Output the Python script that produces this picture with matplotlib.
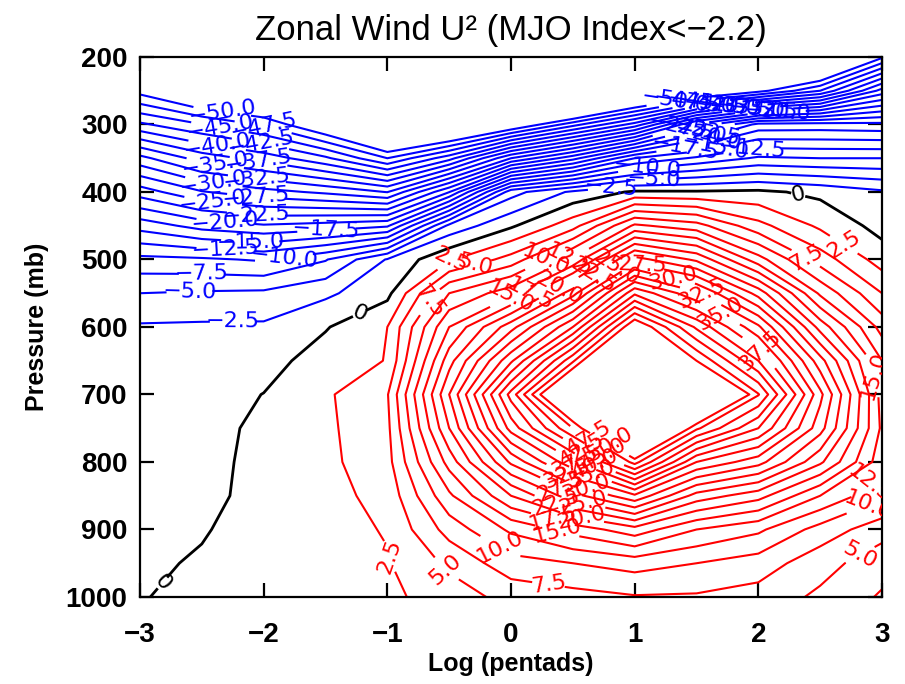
import numpy as np
import matplotlib
matplotlib.use("Agg")
import matplotlib.pyplot as plt

plt.rcParams["font.family"] = ["Liberation Sans", "DejaVu Sans"]

# Grid: log10 of period in pentads (columns) and pressure levels in mb (rows)
log_pentads = [-3.0, -2.5, -2.0, -1.5, -1.0, -0.5, 0.0, 0.5, 1.0, 1.5, 2.0, 2.5, 3.0]
pressure_mb = [200, 250, 300, 350, 400, 450, 500, 550, 600, 650, 700, 750, 800, 850, 900, 950, 1000]

# Zonal wind power (U^2) for MJO index < -2.2, one row per pressure level
u2_power = [
    [-60.0, -65.0, -68.0, -72.0, -80.0, -85.0, -85.0, -85.0, -80.0, -85.0, -80.0, -62.0, -50.5],
    [-51.0, -56.0, -58.0, -62.0, -70.0, -78.0, -75.0, -70.0, -61.0, -56.0, -51.0, -45.0, -34.0],
    [-42.0, -44.9, -47.9, -53.4, -61.0, -59.0, -53.5, -46.0, -39.0, -27.0, -19.2, -19.0, -19.3],
    [-31.7, -36.1, -38.5, -42.0, -47.5, -41.0, -30.0, -23.4, -15.0, -12.0, -9.6, -10.0, -10.0],
    [-23.7, -27.3, -29.1, -30.5, -32.6, -22.6, -6.0, -2.0, 0.4, 0.3, 0.5, -0.6, -2.1],
    [-16.0, -18.5, -19.7, -19.0, -17.9, -4.3, -0.4, 4.0, 13.0, 11.0, 5.8, 2.0, -0.9],
    [-9.3, -9.6, -10.3, -7.7, -2.3, 2.2, 6.0, 13.0, 26.0, 22.0, 13.5, 6.3, 1.3],
    [-5.0, -4.7, -4.5, -3.0, -0.7, 10.0, 14.0, 24.0, 39.5, 33.0, 24.0, 12.0, 5.0],
    [-2.2, -2.1, -2.1, -0.2, 2.5, 15.0, 24.0, 35.0, 53.0, 42.0, 33.0, 19.0, 9.0],
    [-1.8, -1.5, -1.0, 1.2, 2.6, 19.0, 32.0, 47.0, 66.0, 50.0, 40.0, 26.0, 12.5],
    [-1.5, -1.1, 0.05, 2.1, 4.8, 22.5, 41.0, 60.0, 80.0, 63.5, 47.7, 30.7, 14.0],
    [-1.2, -0.8, 0.5, 2.0, 4.4, 20.0, 36.0, 47.5, 65.0, 48.0, 40.0, 28.5, 14.5],
    [-1.0, -0.6, 0.55, 1.9, 4.1, 16.0, 28.0, 37.0, 48.5, 35.0, 31.0, 23.0, 13.5],
    [-0.8, -0.5, 0.6, 1.7, 3.3, 12.0, 20.0, 26.5, 32.0, 24.0, 21.0, 15.0, 10.5],
    [-0.6, -0.15, 0.8, 1.5, 2.7, 8.5, 13.0, 16.0, 19.0, 15.0, 13.0, 9.0, 6.0],
    [-0.35, 0.2, 1.0, 1.3, 2.3, 5.5, 9.0, 10.0, 11.0, 10.0, 8.8, 6.0, 3.5],
    [-0.1, 0.5, 1.2, 1.1, 1.9, 3.8, 5.8, 6.6, 7.3, 7.2, 6.5, 4.5, 2.2],
]

neg_levels = [round(-50.0 + 2.5 * i, 1) for i in range(20)]
zero_level = [0.0]
pos_levels = [round(2.5 + 2.5 * i, 1) for i in range(20)]

x_ticks = [-3, -2, -1, 0, 1, 2, 3]
y_ticks = [200, 300, 400, 500, 600, 700, 800, 900, 1000]

X, P = np.meshgrid(log_pentads, pressure_mb)
Z = np.array(u2_power)

fig = plt.figure(figsize=(9.05, 6.84), dpi=100)
ax = fig.add_axes([0.1547, 0.1272, 0.8199, 0.7895])

LABEL_SIZE = 16

# One contour set per level, so each level's labels can be placed on its own line
line_sets = {}
for lev in neg_levels + zero_level + pos_levels:
    if lev < 0:
        color, lw = "blue", 1.5
    elif lev == 0:
        color, lw = "black", 2.0
    else:
        color, lw = "red", 1.5
    line_sets[lev] = ax.contour(X, P, Z, levels=[lev], colors=color,
                                linewidths=lw, linestyles="solid")


def level_text(v):
    if v == 0:
        return "0"
    return f"{v:.1f}".replace("-", "\u2212")


def place_labels(level, points):
    """Put labels of one contour level near the given (x, p) spots."""
    texts = ax.clabel(line_sets[level], manual=points, fmt=level_text,
                      fontsize=LABEL_SIZE, inline=True, inline_spacing=1)
    for t in texts:
        t.set_fontfamily("DejaVu Sans")


label_spots = {lev: [] for lev in line_sets}

# Negative (blue) labels: a cluster on the left and a group on the upper right
for i, lev in enumerate(neg_levels):
    if lev <= -22.5:
        label_spots[lev].append((-2.35 if i % 2 == 0 else -2.0, 300))
        label_spots[lev].append((1.35 + 0.1 * (i % 9), 290))
for lev, pt in [(-20.0, (-2.3, 422)), (-17.5, (-1.5, 433)), (-15.0, (-2.1, 447)),
                (-12.5, (-2.3, 458)), (-10.0, (-1.85, 478)), (-7.5, (-2.5, 511)),
                (-5.0, (-2.6, 548)), (-2.5, (-2.25, 585)),
                (-20.0, (1.55, 292)),
                (-2.5, (0.8, 380)), (-5.0, (1.15, 372)), (-10.0, (1.1, 365)),
                (-12.5, (1.95, 335)), (-15.0, (1.65, 330)), (-17.5, (1.4, 322))]:
    label_spots[lev].append(pt)

# Zero line labels
label_spots[0.0] += [(-1.2, 590), (-2.75, 990), (2.33, 398)]

# Positive (red) labels: upper arc, lower cluster, left bottom and right edge
upper_arc = {2.5: (-0.49, 498), 5.0: (-0.3, 500), 7.5: (-0.68, 560),
             10.0: (0.2, 470), 12.5: (0.4, 470), 15.0: (-0.1, 520),
             17.5: (0.05, 515), 20.0: (0.3, 510), 22.5: (0.6, 505),
             25.0: (0.85, 510), 27.5: (1.05, 515), 30.0: (1.3, 535),
             32.5: (1.55, 548), 35.0: (1.75, 560), 37.5: (2.05, 630)}
for lev, pt in upper_arc.items():
    label_spots[lev].append(pt)
for i, lev in enumerate(pos_levels):
    if lev >= 17.5:
        label_spots[lev].append((0.42 if i % 2 == 0 else 0.62, 830))
for lev, pt in [(2.5, (-0.94, 938)), (5.0, (-0.57, 967)), (7.5, (0.3, 985)),
                (10.0, (-0.05, 915)), (15.0, (0.37, 905)),
                (2.5, (2.68, 481)), (7.5, (2.39, 496)), (15.0, (2.94, 671)),
                (12.5, (2.94, 841)), (10.0, (2.9, 871)), (5.0, (2.78, 923))]:
    label_spots[lev].append(pt)

for lev, spots in label_spots.items():
    if spots:
        place_labels(lev, spots)

ax.set_xlim(-3, 3)
ax.set_ylim(1000, 200)
ax.set_xticks(x_ticks)
ax.set_yticks(y_ticks)
ax.set_xticklabels([f"{t}".replace("-", "\u2212") for t in x_ticks])
ax.tick_params(direction="in", length=10, width=1.6, top=True, right=True,
               labelsize=20)
ax.tick_params(axis="x", pad=18)
ax.tick_params(axis="y", pad=9)
for lab in ax.get_xticklabels() + ax.get_yticklabels():
    lab.set_fontweight("bold")
for sp in ax.spines.values():
    sp.set_linewidth(1.6)

ax.set_title("Zonal Wind U\u00b2 (MJO Index<\u22122.2)", fontsize=25, pad=12)
ax.set_xlabel("Log (pentads)", fontsize=18, fontweight="bold", labelpad=3)
ax.set_ylabel("Pressure (mb)", fontsize=18, fontweight="bold", labelpad=12)

fig.savefig("out.png", dpi=100)
